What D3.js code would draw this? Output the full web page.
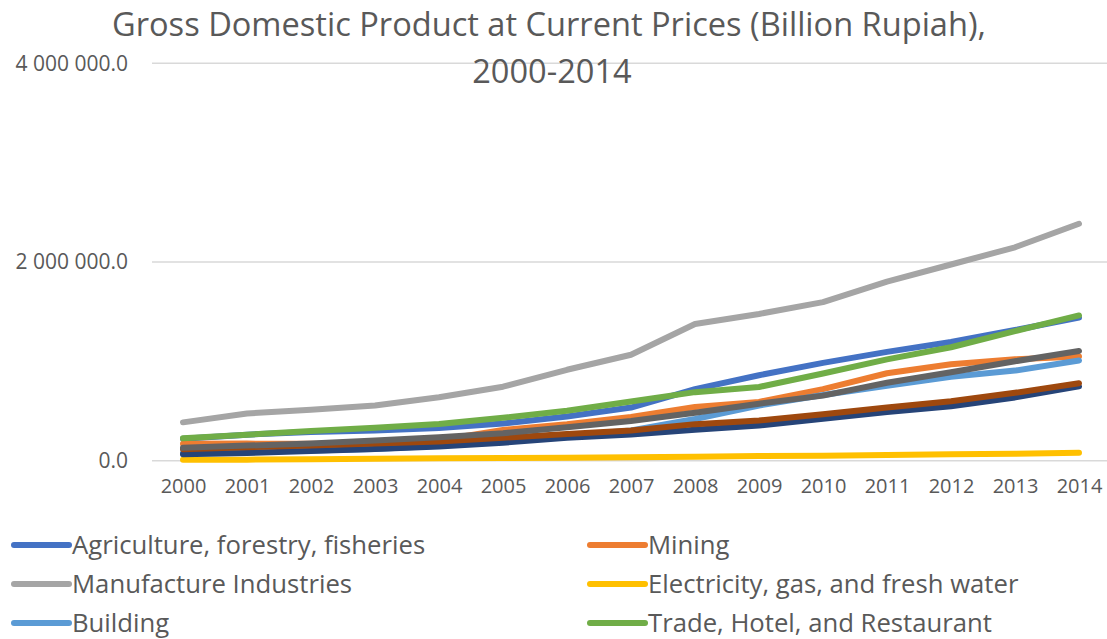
<!DOCTYPE html>
<html>
<head>
<meta charset="utf-8">
<script src="https://cdn.jsdelivr.net/npm/d3@7"></script>
<style>
  body { margin: 0; background: #fff; }
  svg { display: block; font-family: "Open Sans", Lato, sans-serif; }
</style>
</head>
<body>
<svg id="chart"></svg>
<script>
// GDP at current prices, billion rupiah
var years = ["2000","2001","2002","2003","2004","2005","2006","2007","2008","2009","2010","2011","2012","2013","2014"];

var seriesNames = [
  "Agriculture, forestry, fisheries",
  "Mining",
  "Manufacture Industries",
  "Electricity, gas, and fresh water",
  "Building",
  "Trade, Hotel, and Restaurant",
  "Transportation and Communication",
  "Finance, Real Estate, and Business Services",
  "Services"
];

var agriculture = [220000, 262000, 290000, 305000, 330000, 375000, 445000, 535000, 720000, 860000, 985000, 1095000, 1195000, 1315000, 1440000];
var mining      = [170000, 172000, 170000, 168000, 205000, 309000, 366000, 441000, 541000, 592000, 720000, 880000, 970000, 1021000, 1050000];
var manufacture = [386000, 475000, 512000, 555000, 638000, 745000, 915000, 1066000, 1376000, 1477000, 1596000, 1803000, 1975000, 2148000, 2385000];
var electricity = [8400, 10400, 15400, 19100, 23700, 26700, 30400, 34700, 40900, 46700, 49100, 56700, 65100, 70000, 80000];
var building    = [76500, 89000, 101600, 118600, 151000, 195000, 251000, 305000, 420000, 555000, 661000, 754000, 844000, 907000, 1008000];
var trade       = [226000, 262000, 300000, 331000, 369000, 432000, 502000, 595000, 690000, 742000, 878000, 1020000, 1142000, 1305000, 1462000];
var transport   = [65000, 77000, 98000, 119000, 142000, 181000, 232000, 264000, 312000, 354000, 423000, 491000, 549000, 637000, 748000];
var finance     = [115000, 135000, 154000, 174000, 194000, 231000, 269000, 305000, 368000, 405000, 467000, 535000, 599000, 683000, 780000];
var services    = [130000, 152000, 172000, 204000, 237000, 276000, 336000, 399000, 482000, 574000, 655000, 785000, 890000, 1001000, 1105000];

var yTicks = [0, 2000000, 4000000];

var colors = ["#4472C4", "#ED7D31", "#A5A5A5", "#FFC000", "#5B9BD5", "#70AD47", "#264478", "#9E480E", "#636363"];

// only the first six legend entries fit inside the picture
var legendCount = 6;

var allValues = [agriculture, mining, manufacture, electricity, building, trade, transport, finance, services];
var series = seriesNames.map(function(name, i) {
  return { name: name, color: colors[i], values: allValues[i] };
});

var width = 1107, height = 639;
var textColor = "#595959";

var svg = d3.select("#chart")
  .attr("width", width)
  .attr("height", height);

var x = d3.scalePoint()
  .domain(years)
  .range([151, 1111])
  .padding(0.5);

var y = d3.scaleLinear()
  .domain([0, 4000000])
  .range([460.7, 63.3]);

// gridlines
svg.append("g")
  .selectAll("line")
  .data(yTicks)
  .enter()
  .append("line")
  .attr("x1", 152)
  .attr("x2", width)
  .attr("y1", function(d) { return y(d); })
  .attr("y2", function(d) { return y(d); })
  .attr("stroke", "#d9d9d9")
  .attr("stroke-width", 1.5);

// y axis labels
var fmt = function(d) { return d3.format(",.1f")(d).replace(/,/g, " "); };
var yAxis = svg.append("g")
  .attr("transform", "translate(128,0)")
  .call(d3.axisLeft(y).tickValues(yTicks).tickSize(0).tickPadding(0).tickFormat(fmt));
yAxis.select(".domain").remove();
yAxis.selectAll("text")
  .attr("fill", textColor)
  .style("font-size", "21px")
  .style("font-family", "'Open Sans', sans-serif");

// x axis labels
var xAxis = svg.append("g")
  .attr("transform", "translate(0," + y(0) + ")")
  .call(d3.axisBottom(x).tickSize(0).tickPadding(18));
xAxis.select(".domain").remove();
xAxis.selectAll("text")
  .attr("fill", textColor)
  .style("font-size", "20px")
  .style("font-family", "'Open Sans', sans-serif");

// lines
var line = d3.line()
  .x(function(d, i) { return x(years[i]); })
  .y(function(d) { return y(d); });

svg.append("g")
  .selectAll("path")
  .data(series)
  .enter()
  .append("path")
  .attr("d", function(d) { return line(d.values); })
  .attr("fill", "none")
  .attr("stroke", function(d) { return d.color; })
  .attr("stroke-width", 6)
  .attr("stroke-linecap", "round")
  .attr("stroke-linejoin", "round");

// title
var title = svg.append("text")
  .attr("text-anchor", "middle")
  .attr("fill", textColor)
  .style("font-size", "32.6px");
title.append("tspan").attr("x", 549).attr("y", 36)
  .text("Gross Domestic Product at Current Prices (Billion Rupiah),");
title.append("tspan").attr("x", 552).attr("y", 83)
  .text("2000-2014");

// legend, two columns
var legend = svg.append("g")
  .selectAll("g")
  .data(series.slice(0, legendCount))
  .enter()
  .append("g")
  .attr("transform", function(d, i) {
    var col = i % 2, row = Math.floor(i / 2);
    return "translate(" + (col === 0 ? 14 : 590) + "," + (545 + row * 39) + ")";
  });

legend.append("line")
  .attr("x1", 0)
  .attr("x2", 55)
  .attr("stroke", function(d) { return d.color; })
  .attr("stroke-width", 6)
  .attr("stroke-linecap", "round");

legend.append("text")
  .attr("x", 58)
  .attr("y", 9)
  .attr("fill", textColor)
  .style("font-size", "25.7px")
  .text(function(d) { return d.name; });
</script>
</body>
</html>
